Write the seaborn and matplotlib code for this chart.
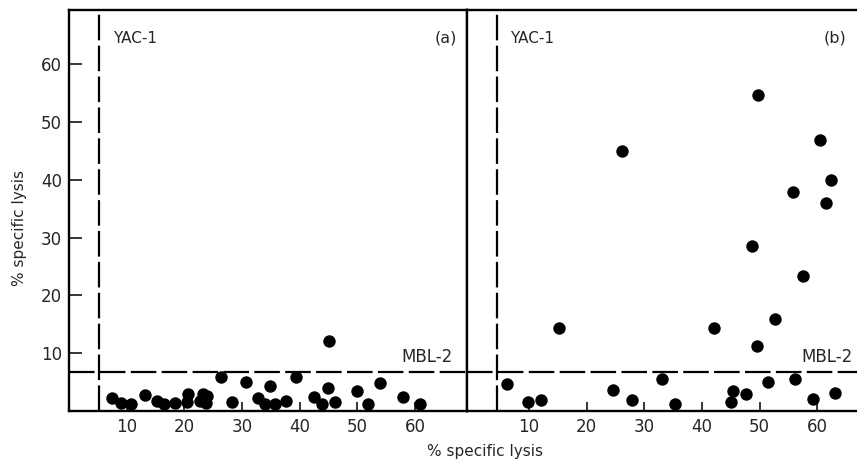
import matplotlib
matplotlib.use("Agg")
import matplotlib.pyplot as plt
import seaborn as sns
import pandas as pd

# Panel (a): % specific lysis of YAC-1 (x) and MBL-2 (y)
a_yac = [7.5, 9.0, 10.7, 13.1, 15.3, 16.5, 18.4, 20.4, 20.7, 22.7, 23.2, 23.8, 24.0,
         26.3, 28.2, 30.7, 32.8, 33.9, 34.8, 35.8, 37.6, 39.3, 42.5, 43.8, 44.9,
         45.1, 46.1, 49.9, 51.8, 53.9, 57.9, 60.8]
a_mbl = [2.2, 1.3, 1.2, 2.7, 1.8, 1.2, 1.3, 1.6, 3.0, 1.8, 3.0, 1.3, 2.6,
         5.8, 1.5, 5.0, 2.2, 1.2, 4.3, 1.2, 1.8, 5.8, 2.4, 1.2, 3.9,
         12.1, 1.5, 3.4, 1.2, 4.8, 2.5, 1.2]

# Panel (b)
b_yac = [6.2, 9.8, 12.1, 15.2, 24.6, 26.2, 27.9, 33.1, 35.3, 42.1, 45.1, 45.4, 47.7,
         48.7, 49.7, 49.6, 51.5, 52.7, 56.2, 55.8, 57.5, 59.3, 60.5, 61.5, 62.4, 63.1]
b_mbl = [4.6, 1.5, 1.9, 14.3, 3.6, 45.0, 1.9, 5.5, 1.2, 14.3, 1.5, 3.4, 2.9,
         28.5, 54.7, 11.2, 5.0, 16.0, 5.5, 37.9, 23.3, 2.0, 46.9, 36.0, 40.0, 3.2]

# Cut-off levels drawn as dashed lines
yac_cut = [5.2, 4.4]
mbl_cut = 6.7

panel_tags = ["(a)", "(b)"]
x_ticks = [10, 20, 30, 40, 50, 60]
y_ticks = [10, 20, 30, 40, 50, 60]

sns.set_style("white")
plt.rcParams["font.family"] = ["DejaVu Sans"]

fig = plt.figure(figsize=(8.57, 4.61), dpi=100)
W, H = 857, 461
top, bottom = 10, 411
ax_a = fig.add_axes([69 / W, 1 - bottom / H, (467 - 69) / W, (bottom - top) / H])
ax_b = fig.add_axes([467 / W, 1 - bottom / H, (857 - 467) / W, (bottom - top) / H])

frames = [pd.DataFrame({"yac": a_yac, "mbl": a_mbl}),
          pd.DataFrame({"yac": b_yac, "mbl": b_mbl})]
xlims = [(0, 69.0), (-0.77, 66.9)]

dash = (0, (11.5, 2.4))
for i, (ax, df) in enumerate(zip([ax_a, ax_b], frames)):
    sns.scatterplot(data=df, x="yac", y="mbl", ax=ax, color="black", s=80,
                    linewidth=0, zorder=3, clip_on=False)
    ax.set_xlim(*xlims[i])
    ax.set_ylim(0, 69.4)
    ax.axvline(yac_cut[i], color="black", lw=1.6, linestyle=dash, zorder=2)
    ax.axhline(mbl_cut, color="black", lw=1.6, linestyle=dash, zorder=2)
    ax.set_xticks(x_ticks)
    ax.set_xticklabels([str(t) for t in x_ticks], fontsize=12)
    ax.tick_params(axis="x", direction="in", length=6.5, width=1.3, pad=5,
                   bottom=True, top=False)
    ax.set_xlabel("")
    ax.set_ylabel("")
    for side in ["left", "right", "top", "bottom"]:
        ax.spines[side].set_color("black")
        ax.spines[side].set_linewidth(1.7)
    ax.text(0.11, 0.93, "YAC-1", transform=ax.transAxes,
            fontsize=11, ha="left", va="center")
    ax.text(0.974, 0.93, panel_tags[i], transform=ax.transAxes,
            fontsize=11.5, ha="right", va="center")
    ax.text(0.965 if i == 0 else 0.99, mbl_cut + 1.7, "MBL-2",
            transform=ax.get_yaxis_transform(), fontsize=12,
            ha="right", va="baseline")

ax_a.set_yticks(y_ticks)
ax_a.set_yticklabels([str(t) for t in y_ticks], fontsize=12)
ax_a.tick_params(axis="y", direction="in", length=9, width=1.3, pad=5,
                 left=True, right=False)
ax_b.set_yticks([])
ax_b.spines["right"].set_visible(False)

fig.text(20 / W, 1 - 228 / H, "% specific lysis", rotation=90,
         fontsize=11, ha="center", va="center")
fig.text(485 / W, 1 - 451 / H, "% specific lysis", fontsize=11,
         ha="center", va="center")

fig.savefig("out.png", dpi=100)
